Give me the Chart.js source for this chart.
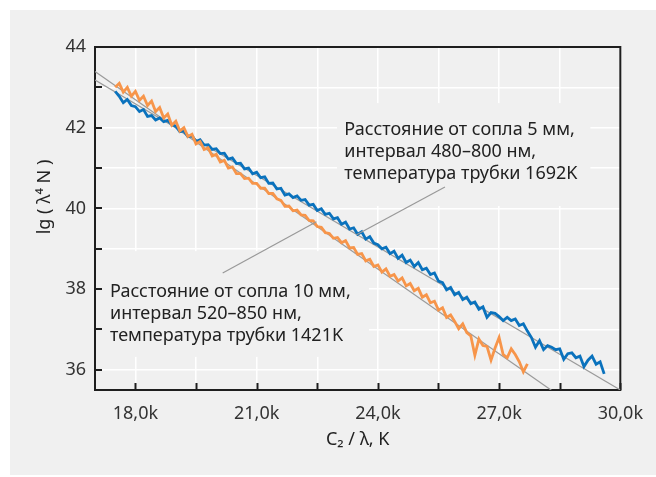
<!DOCTYPE html>
<html>
<head>
<meta charset="utf-8">
<script src="https://cdn.jsdelivr.net/npm/chart.js@4"></script>
<style>
  html, body { margin: 0; padding: 0; background: #fff; }
  canvas { display: block; }
</style>
</head>
<body>
<canvas id="chart" width="656" height="477"></canvas>
<script>
// sampling of both spectra: C2/λ from 17.5k, step 0.1k
const xStart = 17500;
const xStep = 100;

// 5 mm, 480-800 nm (blue)
const blueValues = [
  42.90, 42.78, 42.62, 42.70, 42.55, 42.52, 42.40, 42.45, 42.28, 42.30,
  42.19, 42.24, 42.15, 42.18, 42.08, 42.04, 41.90, 41.92, 41.78, 41.80,
  41.66, 41.70, 41.57, 41.58, 41.46, 41.48, 41.36, 41.37, 41.22, 41.25,
  41.11, 41.12, 40.98, 41.00, 40.86, 40.90, 40.76, 40.78, 40.62, 40.63,
  40.48, 40.50, 40.33, 40.36, 40.27, 40.31, 40.20, 40.22, 40.08, 40.10,
  39.95, 39.99, 39.85, 39.88, 39.74, 39.77, 39.61, 39.66, 39.49, 39.52,
  39.36, 39.42, 39.24, 39.30, 39.14, 39.10, 39.00, 39.04, 38.88, 38.94,
  38.76, 38.84, 38.66, 38.72, 38.56, 38.66, 38.48, 38.52, 38.36, 38.40,
  38.20, 38.16, 37.98, 38.04, 37.86, 37.92, 37.74, 37.80, 37.64, 37.68,
  37.50, 37.56, 37.30, 37.42, 37.40, 37.32, 37.22, 37.30, 37.22, 37.26,
  37.10, 37.14, 36.96, 36.80, 36.56, 36.72, 36.50, 36.60, 36.56, 36.50,
  36.52, 36.26, 36.40, 36.42, 36.30, 36.34, 36.08, 36.24, 36.34, 36.14,
  36.20, 35.90
];

// 10 mm, 520-850 nm (orange)
const orangeValues = [
  43.00, 43.10, 42.88, 43.00, 42.78, 42.90, 42.68, 42.78, 42.55, 42.66,
  42.40, 42.50, 42.24, 42.34, 42.06, 42.16, 41.92, 42.00, 41.78, 41.84,
  41.60, 41.66, 41.46, 41.50, 41.30, 41.34, 41.15, 41.19, 41.00, 41.03,
  40.86, 40.86, 40.74, 40.75, 40.62, 40.62, 40.50, 40.50, 40.37, 40.37,
  40.24, 40.20, 40.05, 40.06, 39.94, 39.96, 39.84, 39.83, 39.70, 39.69,
  39.55, 39.53, 39.40, 39.38, 39.26, 39.28, 39.15, 39.20, 39.02, 39.03,
  38.86, 38.88, 38.70, 38.74, 38.56, 38.60, 38.42, 38.50, 38.32, 38.36,
  38.20, 38.28, 38.08, 38.14, 37.96, 38.02, 37.80, 37.86, 37.66, 37.70,
  37.48, 37.54, 37.30, 37.36, 37.20, 37.02, 37.14, 36.92, 36.84, 36.36,
  36.76, 36.60, 36.58, 36.24, 36.54, 36.80, 36.38, 36.30, 36.52, 36.38,
  36.20, 35.95, 36.15
];

// linear fits (gray)
const fitX = [17000, 30000];
const blueFit = [43.18, 35.5];
const orangeFit = [43.39, 34.30];

const xTicks = [18000, 19500, 21000, 22500, 24000, 25500, 27000, 28500, 30000];
const yTicks = [36, 37, 38, 39, 40, 41, 42, 43, 44];

const labelBlue = ["Расстояние от сопла 5 мм,", "интервал 480–800 нм,", "температура трубки 1692K"];
const labelOrange = ["Расстояние от сопла 10 мм,", "интервал 520–850 нм,", "температура трубки 1421K"];

const FONT = '"Noto Sans", "Open Sans", sans-serif';

function toPoints(values) {
  return values.map((v, i) => ({ x: xStart + i * xStep, y: v }));
}
function fitPoints(ys) {
  return fitX.map((x, i) => ({ x: x, y: ys[i] }));
}

// annotation geometry, in data units
const notes = [
  { lines: labelBlue, at: [23170, 41.82], box: [22990, 29260, 42.61, 40.06], leader: [23460, 39.34, 25660, 40.53] },
  { lines: labelOrange, at: [17370, 37.81], box: [17030, 23780, 38.94, 36.32], leader: [20160, 38.40, 22480, 39.67] }
];

const decor = {
  id: "decor",
  beforeDraw(chart) {
    const c = chart.ctx;
    c.save();
    c.fillStyle = "#f0f0f0";
    c.fillRect(10, 10, 646, 465);
    c.restore();
  },
  beforeDatasetsDraw(chart) {
    const c = chart.ctx;
    const a = chart.chartArea;
    const x = chart.scales.x, y = chart.scales.y;
    c.save();
    c.fillStyle = "#f0f0f0";
    notes.forEach(n => {
      const x0 = x.getPixelForValue(n.box[0]), x1 = x.getPixelForValue(n.box[1]);
      const y0 = y.getPixelForValue(n.box[2]), y1 = y.getPixelForValue(n.box[3]);
      c.fillRect(x0, y0, x1 - x0, y1 - y0);
    });
    // frame
    c.strokeStyle = "#1e1e1e";
    c.lineWidth = 2;
    c.strokeRect(a.left, a.top, a.right - a.left, a.bottom - a.top);
    // inward ticks
    c.beginPath();
    xTicks.forEach(v => {
      const px = Math.round(x.getPixelForValue(v)) + 0.5;
      c.moveTo(px, a.bottom);
      c.lineTo(px, a.bottom - 7);
    });
    yTicks.forEach(v => {
      const py = Math.round(y.getPixelForValue(v));
      c.moveTo(a.left, py);
      c.lineTo(a.left + 7, py);
    });
    c.stroke();
    c.restore();
  },
  afterDatasetsDraw(chart) {
    const c = chart.ctx;
    const x = chart.scales.x, y = chart.scales.y;
    const a = chart.chartArea;
    c.save();
    c.strokeStyle = "#999";
    c.lineWidth = 1.2;
    notes.forEach(n => {
      c.beginPath();
      c.moveTo(x.getPixelForValue(n.leader[0]), y.getPixelForValue(n.leader[1]));
      c.lineTo(x.getPixelForValue(n.leader[2]), y.getPixelForValue(n.leader[3]));
      c.stroke();
    });
    c.fillStyle = "#222";
    c.font = "18px " + FONT;
    c.textBaseline = "alphabetic";
    c.textAlign = "left";
    notes.forEach(n => {
      const px = x.getPixelForValue(n.at[0]);
      const py = y.getPixelForValue(n.at[1]);
      n.lines.forEach((t, i) => c.fillText(t, px, py + i * 22));
    });
    // axis titles
    c.textAlign = "center";
    c.textBaseline = "middle";
    c.fillText("C₂ / λ, K", (a.left + a.right) / 2, 440);
    c.translate(45, 197);
    c.rotate(-Math.PI / 2);
    c.fillText("lg ( λ⁴ N )", 0, 0);
    c.restore();
  }
};

const ctx = document.getElementById("chart").getContext("2d");
const chart = new Chart(ctx, {
  type: "line",
  data: {
    datasets: [
      {
        label: "10 мм",
        data: toPoints(orangeValues),
        borderColor: "#f7954a",
        borderWidth: 2.8,
        pointRadius: 0,
        tension: 0,
        order: 0
      },
      {
        label: "5 мм",
        data: toPoints(blueValues),
        borderColor: "#0a72bd",
        borderWidth: 2.8,
        pointRadius: 0,
        tension: 0,
        order: 1
      },
      {
        label: "fit 5 мм",
        data: fitPoints(blueFit),
        borderColor: "#9a9a9a",
        borderWidth: 1.2,
        pointRadius: 0,
        order: 2
      },
      {
        label: "fit 10 мм",
        data: fitPoints(orangeFit),
        borderColor: "#9a9a9a",
        borderWidth: 1.2,
        pointRadius: 0,
        order: 2
      }
    ]
  },
  options: {
    responsive: false,
    animation: false,
    layout: { padding: { left: 0, top: 47, right: 34, bottom: 0 } },
    plugins: { legend: { display: false }, tooltip: { enabled: false } },
    scales: {
      x: {
        type: "linear",
        min: 17000,
        max: 30000,
        afterBuildTicks: s => { s.ticks = xTicks.map(v => ({ value: v })); },
        afterFit: s => { s.height = 87; },
        grid: { color: "#ffffff", lineWidth: 1.5, drawTicks: false },
        border: { display: false },
        ticks: {
          autoSkip: false,
          maxRotation: 0,
          padding: 13,
          color: "#333",
          font: { family: FONT, size: 18 },
          callback: v => (v % 3000 === 0 ? (v / 1000).toFixed(1).replace(".", ",") + "k" : "")
        }
      },
      y: {
        type: "linear",
        min: 35.5,
        max: 44,
        afterBuildTicks: s => { s.ticks = yTicks.map(v => ({ value: v })); },
        afterFit: s => { s.width = 95; },
        grid: { color: "#ffffff", lineWidth: 1.5, drawTicks: false },
        border: { display: false },
        ticks: {
          padding: 9,
          color: "#333",
          font: { family: FONT, size: 18 },
          callback: v => (v % 2 === 0 ? String(v) : "")
        }
      }
    }
  },
  plugins: [decor]
});
</script>
</body>
</html>
